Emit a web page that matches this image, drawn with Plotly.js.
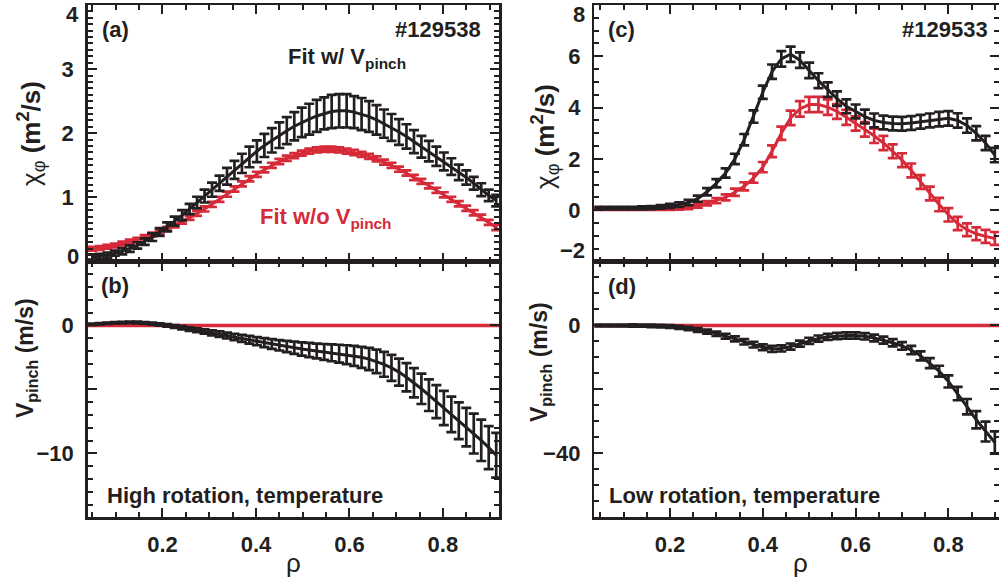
<!DOCTYPE html>
<html>
<head>
<meta charset="utf-8">
<script src="https://cdn.plot.ly/plotly-3.0.1.min.js"></script>
<style>
  html, body { margin: 0; padding: 0; background: #ffffff; }
  #chart { width: 999px; height: 584px; }
</style>
</head>
<body>
<div id="chart"></div>
<script>
// ---------- DATA ----------
// High rotation shot #129538 (panels a, b)
const rhoA = [0.050,0.066,0.082,0.098,0.114,0.130,0.146,0.162,0.178,0.194,
              0.210,0.226,0.242,0.258,0.274,0.290,0.306,0.322,0.338,0.354,
              0.370,0.386,0.402,0.418,0.434,0.450,0.466,0.482,0.498,0.514,
              0.530,0.546,0.562,0.578,0.594,0.610,0.626,0.642,0.658,0.674,
              0.690,0.706,0.722,0.738,0.754,0.770,0.786,0.802,0.818,0.834,
              0.850,0.866,0.882,0.898,0.914];
const chiFitWithPinchA = [0.07,0.08,0.10,0.13,0.16,0.20,0.25,0.31,0.38,0.46,
              0.54,0.63,0.72,0.82,0.92,1.02,1.12,1.22,1.33,1.43,
              1.53,1.63,1.72,1.81,1.89,1.97,2.04,2.11,2.17,2.22,
              2.27,2.31,2.34,2.35,2.35,2.33,2.30,2.26,2.21,2.15,
              2.09,2.02,1.95,1.87,1.79,1.72,1.64,1.56,1.48,1.39,
              1.31,1.22,1.12,1.03,0.95];
const chiFitWithPinchErrA = [0.04,0.04,0.04,0.04,0.05,0.05,0.05,0.05,0.06,0.06,
              0.07,0.07,0.08,0.08,0.09,0.10,0.11,0.12,0.13,0.14,
              0.15,0.16,0.17,0.18,0.19,0.20,0.21,0.22,0.23,0.24,
              0.25,0.25,0.26,0.26,0.26,0.25,0.25,0.24,0.23,0.22,
              0.21,0.20,0.19,0.18,0.17,0.16,0.15,0.14,0.13,0.12,
              0.11,0.10,0.10,0.09,0.09];
const chiFitNoPinchA = [0.20,0.21,0.23,0.25,0.28,0.31,0.34,0.38,0.42,0.46,
              0.51,0.56,0.62,0.68,0.75,0.82,0.89,0.97,1.05,1.13,
              1.21,1.29,1.36,1.43,1.50,1.56,1.61,1.65,1.69,1.72,
              1.74,1.75,1.75,1.74,1.72,1.70,1.67,1.64,1.60,1.55,
              1.50,1.44,1.38,1.31,1.25,1.18,1.11,1.04,0.97,0.90,
              0.83,0.76,0.69,0.61,0.53];
const chiFitNoPinchErrA = [0.03,0.03,0.03,0.03,0.03,0.03,0.03,0.03,0.03,0.03,
              0.03,0.03,0.03,0.03,0.04,0.04,0.04,0.04,0.04,0.04,
              0.04,0.04,0.04,0.04,0.04,0.04,0.04,0.04,0.04,0.04,
              0.04,0.04,0.04,0.04,0.04,0.04,0.04,0.04,0.04,0.04,
              0.04,0.04,0.04,0.04,0.04,0.04,0.04,0.04,0.04,0.04,
              0.04,0.04,0.04,0.04,0.04];
const vpinchB = [0.10,0.14,0.18,0.21,0.23,0.24,0.23,0.20,0.15,0.08,
              0.00,-0.09,-0.18,-0.28,-0.38,-0.48,-0.58,-0.68,-0.79,-0.90,
              -1.01,-1.12,-1.23,-1.34,-1.45,-1.55,-1.65,-1.75,-1.84,-1.92,
              -2.00,-2.07,-2.14,-2.21,-2.29,-2.38,-2.49,-2.63,-2.81,-3.04,
              -3.32,-3.65,-4.05,-4.48,-4.95,-5.45,-5.95,-6.45,-6.95,-7.45,
              -7.95,-8.45,-8.98,-9.55,-10.15];
const vpinchErrB = [0.05,0.05,0.05,0.05,0.06,0.06,0.07,0.07,0.08,0.09,
              0.10,0.11,0.12,0.14,0.15,0.17,0.19,0.21,0.23,0.25,
              0.27,0.30,0.32,0.35,0.38,0.41,0.44,0.48,0.52,0.55,
              0.58,0.62,0.66,0.70,0.74,0.78,0.82,0.87,0.92,0.97,
              1.02,1.06,1.10,1.15,1.19,1.24,1.29,1.34,1.39,1.44,
              1.50,1.56,1.62,1.68,1.75];

// Low rotation shot #129533 (panels c, d)
const rhoC = [0.04,0.06,0.08,0.10,0.12,0.14,0.16,0.18,0.20,0.22,
              0.24,0.26,0.28,0.30,0.32,0.34,0.36,0.38,0.40,0.42,
              0.44,0.46,0.48,0.50,0.52,0.54,0.56,0.58,0.60,0.62,
              0.64,0.66,0.68,0.70,0.72,0.74,0.76,0.78,0.80,0.82,
              0.84,0.86,0.88,0.90];
const chiFitWithPinchC = [0.08,0.08,0.08,0.08,0.08,0.09,0.10,0.13,0.17,0.22,
              0.30,0.45,0.72,1.05,1.45,2.00,2.75,3.65,4.60,5.40,
              5.90,6.08,5.85,5.45,5.05,4.70,4.35,4.05,3.85,3.65,
              3.50,3.42,3.38,3.37,3.40,3.45,3.50,3.55,3.58,3.50,
              3.30,3.00,2.62,2.15];
const chiFitWithPinchErrC = [0.05,0.05,0.05,0.05,0.05,0.06,0.06,0.07,0.08,0.09,
              0.10,0.12,0.14,0.16,0.18,0.20,0.22,0.24,0.26,0.28,
              0.30,0.30,0.30,0.30,0.29,0.28,0.28,0.27,0.27,0.27,
              0.27,0.27,0.27,0.27,0.27,0.27,0.27,0.28,0.28,0.28,
              0.28,0.28,0.28,0.28];
const chiFitNoPinchC = [0.05,0.05,0.05,0.05,0.05,0.05,0.05,0.05,0.06,0.07,
              0.10,0.17,0.27,0.37,0.50,0.70,0.93,1.25,1.68,2.30,
              3.00,3.60,3.95,4.12,4.12,4.02,3.85,3.62,3.38,3.15,
              2.90,2.62,2.30,1.95,1.55,1.10,0.65,0.22,-0.18,-0.52,
              -0.76,-0.92,-1.02,-1.10];
const chiFitNoPinchErrC = [0.04,0.04,0.04,0.04,0.04,0.04,0.04,0.04,0.05,0.05,
              0.06,0.07,0.08,0.10,0.12,0.14,0.16,0.18,0.20,0.23,
              0.26,0.28,0.30,0.30,0.30,0.30,0.29,0.29,0.28,0.28,
              0.28,0.28,0.27,0.27,0.27,0.27,0.27,0.26,0.26,0.26,
              0.25,0.25,0.25,0.25];
const vpinchD = [0.0,0.0,0.0,0.0,0.0,-0.05,-0.1,-0.2,-0.35,-0.6,
              -0.95,-1.4,-1.95,-2.6,-3.35,-4.2,-5.1,-6.0,-6.8,-7.3,
              -7.2,-6.6,-5.7,-4.8,-4.1,-3.6,-3.3,-3.15,-3.15,-3.4,
              -3.9,-4.6,-5.4,-6.4,-7.7,-9.5,-11.8,-14.3,-17.5,-21.3,
              -25.4,-29.5,-33.2,-36.6];
const vpinchErrD = [0.3,0.3,0.3,0.3,0.35,0.35,0.4,0.4,0.45,0.5,
              0.55,0.6,0.65,0.7,0.75,0.8,0.85,0.9,0.9,0.95,
              0.95,0.95,0.95,0.95,0.95,0.95,0.95,1.0,1.0,1.0,
              1.05,1.1,1.15,1.2,1.3,1.4,1.55,1.7,1.9,2.1,
              2.4,2.7,3.1,3.5];

// Fit without pinch: V_pinch identically zero
const zeroRho = [0.04, 0.92];
const zeroPinch = [0, 0];

// Tick labels (interior labels on axes; the end labels are nudged inside the frame)
const xTickVals = [0.2, 0.4, 0.6, 0.8];
const xTickText = ['0.2', '0.4', '0.6', '0.8'];
const yTickValsA = [1, 2, 3];
const yTickTextA = ['1', '2', '3'];
const yEndLabelsA = [[4, '4', -10], [0, '0', 5]];
const yTickValsC = [0, 2, 4, 6];
const yTickTextC = ['0', '2', '4', '6'];
const yEndLabelsC = [[8, '8', -10], [-2, '\u22122', 11]];

// ---------- STYLE ----------
const BLACK = '#231f20';
const RED = '#d62a39';
const FONT = 'Liberation Sans, Arial, Helvetica, sans-serif';

function curve(x, y, err, color, xa, ya, w) {
  const t = {
    x: x, y: y, xaxis: xa, yaxis: ya, type: 'scatter', mode: 'lines',
    line: { color: color, width: w || 3 }, hoverinfo: 'skip', showlegend: false
  };
  if (err) {
    t.error_y = { type: 'data', array: err, visible: true, color: color, thickness: 2.7, width: 5 };
  }
  return t;
}

const traces = [
  curve(rhoA, chiFitNoPinchA, chiFitNoPinchErrA, RED, 'x', 'y'),
  curve(rhoA, chiFitWithPinchA, chiFitWithPinchErrA, BLACK, 'x', 'y'),
  curve(zeroRho, zeroPinch, null, RED, 'x2', 'y2', 3.5),
  curve(rhoA, vpinchB, vpinchErrB, BLACK, 'x2', 'y2'),
  curve(rhoC, chiFitNoPinchC, chiFitNoPinchErrC, RED, 'x3', 'y3'),
  curve(rhoC, chiFitWithPinchC, chiFitWithPinchErrC, BLACK, 'x3', 'y3'),
  curve(zeroRho, zeroPinch, null, RED, 'x4', 'y4', 3.5),
  curve(rhoC, vpinchD, vpinchErrD, BLACK, 'x4', 'y4')
];

const W = 999, H = 584;
const px = v => v / W;
const py = v => 1 - v / H;

const LEFT_DOM = [px(87.7), px(499)];
const RIGHT_DOM = [px(594.3), 1];
const TOP_DOM = [py(261.5), py(5)];
const BOT_DOM = [py(517.3), py(261.5)];

const tickFont = { family: FONT, size: 22, color: BLACK, weight: 700 };

const frame = {
  ticks: 'inside', ticklen: 9, tickwidth: 2, tickcolor: BLACK,
  showline: true, linewidth: 2.5, linecolor: BLACK, mirror: 'ticks',
  showgrid: false, zeroline: false, fixedrange: true, tickfont: tickFont
};
function minor(dt) {
  return { tickmode: 'linear', tick0: 0, dtick: dt, ticks: 'inside', ticklen: 5, tickwidth: 2, tickcolor: BLACK, showgrid: false };
}

function xAxis(dom, range, anchor, labels) {
  return Object.assign({}, frame, {
    domain: dom, range: range, anchor: anchor,
    tickmode: 'array', tickvals: xTickVals, ticktext: xTickText,
    showticklabels: labels, ticklabelstandoff: 6, minor: minor(0.05)
  });
}
function yAxisArr(dom, range, anchor, vals, text, minorDt) {
  return Object.assign({}, frame, {
    domain: dom, range: range, anchor: anchor,
    tickmode: 'array', tickvals: vals, ticktext: text,
    ticklabelstandoff: 7, minor: minor(minorDt)
  });
}
function yAxisStep(dom, range, anchor, dt, minorDt) {
  return Object.assign({}, frame, {
    domain: dom, range: range, anchor: anchor,
    tickmode: 'linear', tick0: 0, dtick: dt, ticklabelstep: 2,
    ticklabelstandoff: 7, minor: minor(minorDt)
  });
}

function note(text, x, y, opts) {
  return Object.assign({
    text: text, x: x, y: y, xref: 'paper', yref: 'paper',
    showarrow: false, xanchor: 'center', yanchor: 'middle',
    font: { family: FONT, size: 22, color: BLACK, weight: 700 }
  }, opts || {});
}
function endLabel(item, xdomStart, yref) {
  return {
    text: item[1], x: xdomStart, y: item[0], xref: 'paper', yref: yref,
    showarrow: false, xanchor: 'right', yanchor: 'middle', xshift: -7, yshift: item[2],
    font: tickFont
  };
}

const yTitleChi = '\u03c7<sub>\u03c6</sub> <b>(m<sup>2</sup>/s)</b>';
const yTitleV = '<b>V<sub>pinch</sub> (m/s)</b>';
const titleFont = s => ({ family: FONT, size: s, color: BLACK, weight: 400 });

const annotations = [
  note('(a)', px(115), py(29)),
  note('#129538', px(483), py(29), { xanchor: 'right' }),
  note('Fit w/ V<sub>pinch</sub>', px(347), py(58)),
  note('Fit w/o V<sub>pinch</sub>', px(326), py(218), { font: { family: FONT, size: 22, color: RED, weight: 700 } }),
  note('(b)', px(115), py(285)),
  note('High rotation, temperature', px(105), py(495), { xanchor: 'left' }),
  note('(c)', px(621), py(29)),
  note('#129533', px(990), py(29), { xanchor: 'right' }),
  note('(d)', px(622), py(286)),
  note('Low rotation, temperature', px(607), py(495), { xanchor: 'left' }),
  note(yTitleChi, px(31), py(134), { textangle: -90, font: titleFont(26) }),
  note(yTitleChi, px(545), py(137), { textangle: -90, font: titleFont(26) }),
  note(yTitleV, px(26), py(358), { textangle: -90, font: titleFont(23) }),
  note(yTitleV, px(540), py(362), { textangle: -90, font: titleFont(23) }),
  note('\u03c1', px(293), py(563), { font: titleFont(26) }),
  note('\u03c1', px(800), py(563), { font: titleFont(26) })
].concat(
  yEndLabelsA.map(it => endLabel(it, LEFT_DOM[0], 'y')),
  yEndLabelsC.map(it => endLabel(it, RIGHT_DOM[0], 'y3'))
);

const layout = {
  width: W, height: H,
  margin: { l: 0, r: 0, t: 0, b: 0, pad: 0 },
  paper_bgcolor: '#ffffff', plot_bgcolor: '#ffffff',
  showlegend: false,
  font: { family: FONT, color: BLACK },
  xaxis: xAxis(LEFT_DOM, [0.04, 0.92], 'y', false),
  xaxis2: xAxis(LEFT_DOM, [0.04, 0.92], 'y2', true),
  xaxis3: xAxis(RIGHT_DOM, [0.037, 0.909], 'y3', false),
  xaxis4: xAxis(RIGHT_DOM, [0.037, 0.909], 'y4', true),
  yaxis: yAxisArr(TOP_DOM, [0, 4], 'x', yTickValsA, yTickTextA, 0.1),
  yaxis2: yAxisStep(BOT_DOM, [-15, 5], 'x2', 5, 1),
  yaxis3: yAxisArr(TOP_DOM, [-2, 8], 'x3', yTickValsC, yTickTextC, 0.5),
  yaxis4: yAxisStep(BOT_DOM, [-60, 20], 'x4', 20, 5),
  annotations: annotations
};

Plotly.newPlot('chart', traces, layout, { staticPlot: true, displayModeBar: false }).then(function () {
  // drop empty placeholder text nodes (unused axis titles, hidden labels)
  document.querySelectorAll('#chart svg text').forEach(function (t) {
    if (!t.textContent || !t.textContent.trim()) t.remove();
  });
});
</script>
</body>
</html>
